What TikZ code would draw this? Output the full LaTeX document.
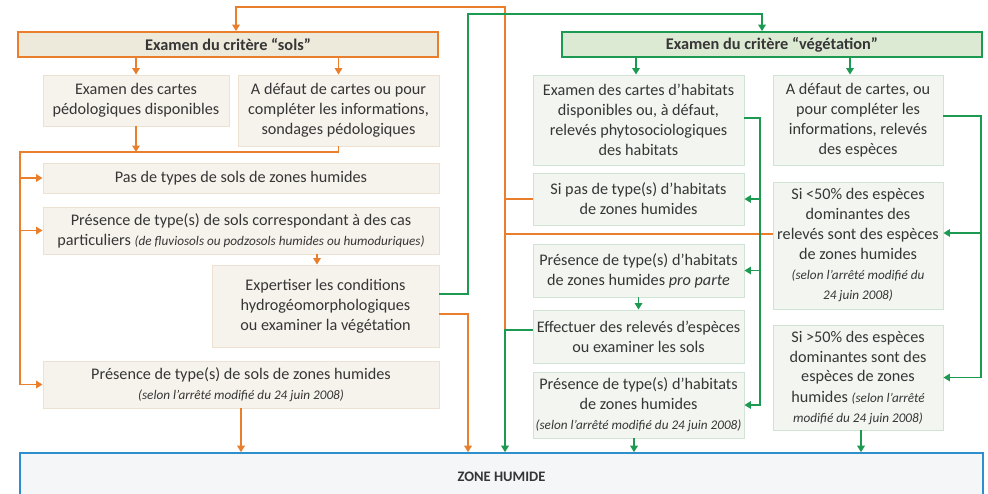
\documentclass[tikz,border=0pt]{standalone}
\usepackage{fontspec}
\setmainfont{Carlito}
\usetikzlibrary{arrows.meta}
\definecolor{orn}{HTML}{E97F2C}
\definecolor{grn}{HTML}{1D9A52}
\definecolor{blu}{HTML}{2D8FCE}
\definecolor{hsfill}{HTML}{EDEADB}
\definecolor{hvfill}{HTML}{DDEAD3}
\definecolor{lfill}{HTML}{F6F2EC}
\definecolor{ldraw}{HTML}{EDE2D1}
\definecolor{rfill}{HTML}{F2F5F0}
\definecolor{rdraw}{HTML}{D0E3D4}
\definecolor{zfill}{HTML}{F4F6F8}
\definecolor{txt}{HTML}{363636}
\newcommand{\smit}[1]{{\fontsize{13.2}{16}\selectfont\itshape #1}}
\begin{document}
\begin{tikzpicture}[x=1pt,y=-1pt,
  box/.style={draw, line width=0.9pt, inner sep=0pt, align=center, text=txt,
    font=\fontsize{16.2}{20}\selectfont},
  lbox/.style={box, fill=lfill, draw=ldraw},
  rbox/.style={box, fill=rfill, draw=rdraw},
  hdr/.style={box, line width=1.8pt, font=\fontsize{16.3}{18}\selectfont\bfseries},
  oc/.style={draw=orn, line width=1.7pt},
  gc/.style={draw=grn, line width=1.7pt},
  tip/.style={-{Triangle[length=6.5pt,width=7.5pt]}}
]
\useasboundingbox (0,0) rectangle (988,493);
\fill[white] (0,0) rectangle (988,493);

% ---------- left column (sols) ----------
\node[hdr, fill=hsfill, draw=orn, minimum width=420, minimum height=25] (hs) at (228,44.5) {Examen du critère “sols”};
\node[lbox, minimum width=186, minimum height=51] (l1) at (136,100.5) {Examen des cartes\\pédologiques disponibles};
\node[lbox, minimum width=201, minimum height=71] (l2) at (338.5,110.5) {A défaut de cartes ou pour\\compléter les informations,\\sondages pédologiques};
\node[lbox, minimum width=396, minimum height=30] (l3) at (241,178) {Pas de types de sols de zones humides};
\node[lbox, minimum width=396, minimum height=47] (l4) at (241,230.5) {Présence de type(s) de sols correspondant à des cas\\particuliers \smit{(de fluviosols ou podzosols humides ou humoduriques)}};
\node[lbox, minimum width=227, minimum height=82] (l5) at (325.5,306) {Expertiser les conditions\\hydrogéomorphologiques\\ou examiner la végétation};
\node[lbox, minimum width=396, minimum height=47] (l6) at (241,384.5) {Présence de type(s) de sols de zones humides\\\smit{(selon l’arrêté modifié du 24 juin 2008)}};

% ---------- right column (vegetation) ----------
\node[hdr, fill=hvfill, draw=grn, minimum width=420, minimum height=25] (hv) at (772,44.5) {Examen du critère “végétation”};
\node[rbox, minimum width=211, minimum height=90] (r1) at (638.5,120) {Examen des cartes d’habitats\\disponibles ou, à défaut,\\relevés phytosociologiques\\des habitats};
\node[rbox, minimum width=170, minimum height=90] (r2) at (858,120) {A défaut de cartes, ou\\pour compléter les\\informations, relevés\\des espèces};
\node[rbox, minimum width=211, minimum height=52] (r3) at (638.5,199) {Si pas de type(s) d’habitats\\de zones humides};
\node[rbox, minimum width=211, minimum height=53] (r4) at (638.5,270.5) {Présence de type(s) d’habitats\\de zones humides \textit{pro parte}};
\node[rbox, minimum width=211, minimum height=53] (r5) at (638.5,336.5) {Effectuer des relevés d’espèces\\ou examiner les sols};
\node[rbox, minimum width=211, minimum height=66] (r6) at (638.5,405) {Présence de type(s) d’habitats\\de zones humides\\\smit{(selon l’arrêté modifié du 24 juin 2008)}};
\node[rbox, minimum width=170, minimum height=127] (r7) at (858,245.5) {Si <50\% des espèces\\dominantes des\\relevés sont des espèces\\de zones humides\\\smit{(selon l’arrêté modifié du}\\\smit{24 juin 2008)}};
\node[rbox, minimum width=170, minimum height=105] (r8) at (858,377.5) {Si >50\% des espèces\\dominantes sont des\\espèces de zones\\humides \smit{(selon l’arrêté}\\\smit{modifié du 24 juin 2008)}};

% ---------- zone humide ----------
\node[box, fill=zfill, draw=blu, line width=1.6pt, minimum width=963, minimum height=48, font=\fontsize{14.5}{18}\selectfont\bfseries] (zh) at (501.5,477) {ZONE HUMIDE};

% ---------- helper coordinates ----------
\coordinate (oT1) at (236,7);
\coordinate (oT2) at (505,7);
\coordinate (oA) at (505,199);
\coordinate (oB) at (505,234);
\coordinate (oC) at (505,330);
\coordinate (gT1) at (468,14);
\coordinate (gT2) at (762,14);
\coordinate (gL) at (468,294);
\coordinate (oL) at (468,314);
\coordinate (lv1) at (20,152);
\coordinate (xa) at (317,0);
\coordinate (xr1) at (636,0);
\coordinate (xr2) at (850,0);
\coordinate (xr6) at (634,0);
\coordinate (xr8) at (861,0);
\coordinate (gv1) at (760,118);
\coordinate (gv2) at (981,116);
\coordinate (gv3) at (981,233);

% ---------- orange connectors ----------
\draw[oc, tip] (l1.north |- hs.south) -- (l1.north);
\draw[oc, tip] (l2.north |- hs.south) -- (l2.north);
\draw[oc, tip] (l1.south) -- (l1.south |- lv1);
\draw[oc, tip] (l2.south) -- (l2.south |- lv1) -- (lv1) -- (lv1 |- l6.west) -- (l6.west);
\draw[oc, tip] (lv1 |- l3.west) -- (l3.west);
\draw[oc, tip] (lv1 |- l4.west) -- (l4.west);
\draw[oc, tip] (l4.south -| xa) -- (l5.north -| xa);
\draw[oc, tip] (l6.south) -- (l6.south |- zh.north);
\draw[oc, tip] (l5.east |- oL) -- (oL) -- (oL |- zh.north);
\draw[oc] (r3.west) -- (oA);
\draw[oc] (r7.west |- oB) -- (oB);
\draw[oc, tip] (oC) -- (oT2) -- (oT1) -- (oT1 |- hs.north);

% ---------- green connectors ----------
\draw[gc, tip] (l5.east |- gL) -- (gL) -- (gT1) -- (gT2) -- (gT2 |- hv.north);
\draw[gc, tip] (r5.west |- oC) -- (oC) -- (oC |- zh.north);
\draw[gc, tip] (xr1 |- hv.south) -- (xr1 |- r1.north);
\draw[gc, tip] (xr2 |- hv.south) -- (xr2 |- r2.north);
\draw[gc, tip] (r1.east |- gv1) -- (gv1) -- (gv1 |- r6.east) -- (r6.east);
\draw[gc, tip] (gv1 |- r3.east) -- (r3.east);
\draw[gc, tip] (gv1 |- r4.east) -- (r4.east);
\draw[gc, tip] (r4.south) -- (r5.north);
\draw[gc, tip] (xr6 |- r6.south) -- (xr6 |- zh.north);
\draw[gc, tip] (r2.east |- gv2) -- (gv2) -- (gv2 |- r8.east) -- (r8.east);
\draw[gc, tip] (gv3) -- (r7.east |- gv3);
\draw[gc, tip] (xr8 |- r8.south) -- (xr8 |- zh.north);
\end{tikzpicture}
\end{document}
